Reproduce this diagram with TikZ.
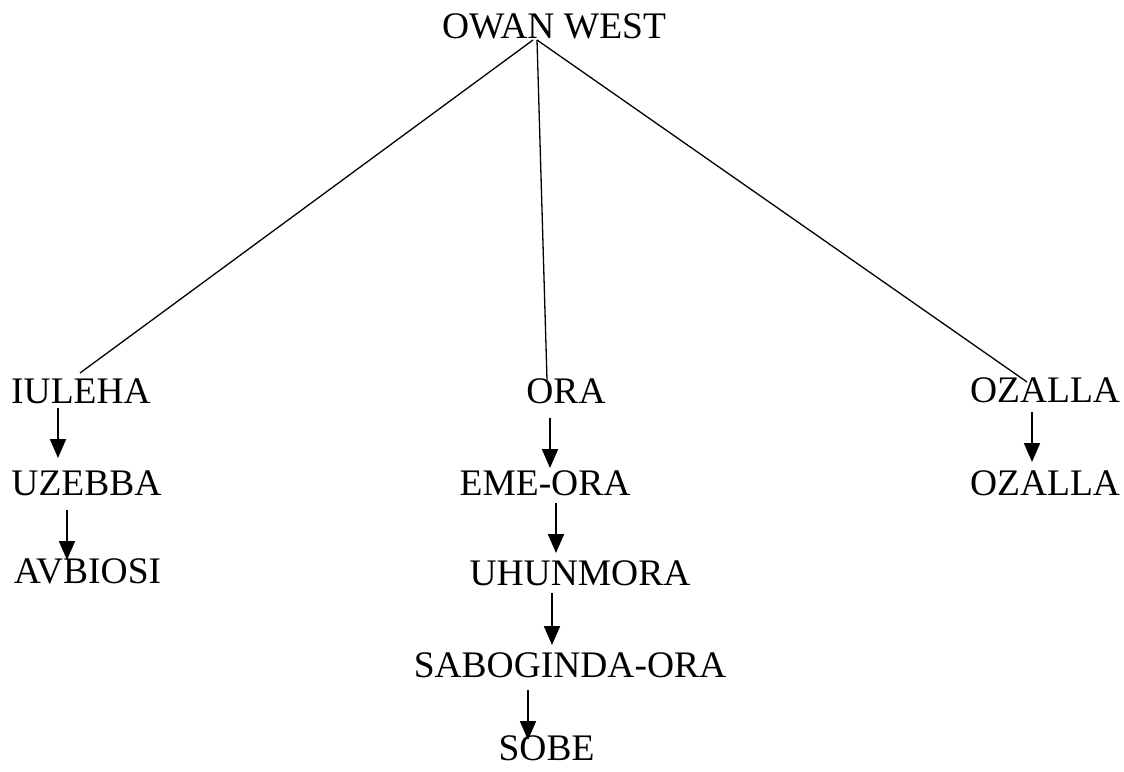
\documentclass[tikz,border=0pt]{standalone}
\usepackage{fontspec}
\setmainfont{Liberation Serif}
\usetikzlibrary{arrows.meta}
\begin{document}
\begin{tikzpicture}[x=1pt,y=-1pt,
  lbl/.style={anchor=base,inner sep=0pt,font=\fontsize{37.5}{40}\selectfont},
  branch/.style={line width=1.3pt},
  arr/.style={line width=2pt,-{Triangle[length=19pt,width=16pt]}}]
\useasboundingbox (0,0) rectangle (1124,771);
% labels
\node[lbl] (owan) at (554,38) {OWAN WEST};
\node[lbl] (iuleha) at (81,403) {IULEHA};
\node[lbl] (uzebba) at (86.5,495) {UZEBBA};
\node[lbl] (avbiosi) at (87.5,583) {AVBIOSI};
\node[lbl] (ora) at (566,403) {ORA};
\node[lbl] (emeora) at (545,495) {EME-ORA};
\node[lbl] (uhun) at (580,585) {UHUNMORA};
\node[lbl] (sabo) at (570,677) {SABOGINDA-ORA};
\node[lbl] (sobe) at (546.5,760) {SOBE};
\node[lbl] (ozallaA) at (1045,402) {OZALLA};
\node[lbl] (ozallaB) at (1045,495) {OZALLA};
% branches from the top
\draw[branch] ([shift={(-21,2)}]owan.base) -- ([shift={(-1,-30)}]iuleha.base);
\draw[branch] ([shift={(-17,2)}]owan.base) -- ([shift={(-19,-23)}]ora.base);
\draw[branch] ([shift={(-17,2)}]owan.base) -- ([shift={(-18,-20)}]ozallaA.base);
% chains
\draw[arr] ([shift={(-23,5)}]iuleha.base) -- ([shift={(-28.5,-37)}]uzebba.base);
\draw[arr] ([shift={(-19.5,15)}]uzebba.base) -- ([shift={(-20.5,-23)}]avbiosi.base);
\draw[arr] ([shift={(-16,15)}]ora.base) -- ([shift={(5,-27)}]emeora.base);
\draw[arr] ([shift={(11,8)}]emeora.base) -- ([shift={(-24,-32)}]uhun.base);
\draw[arr] ([shift={(-28,8)}]uhun.base) -- ([shift={(-18,-32)}]sabo.base);
\draw[arr] ([shift={(-42,13)}]sabo.base) -- ([shift={(-18.5,-20)}]sobe.base);
\draw[arr] ([shift={(-13,10)}]ozallaA.base) -- ([shift={(-13,-33)}]ozallaB.base);
\end{tikzpicture}
\end{document}
